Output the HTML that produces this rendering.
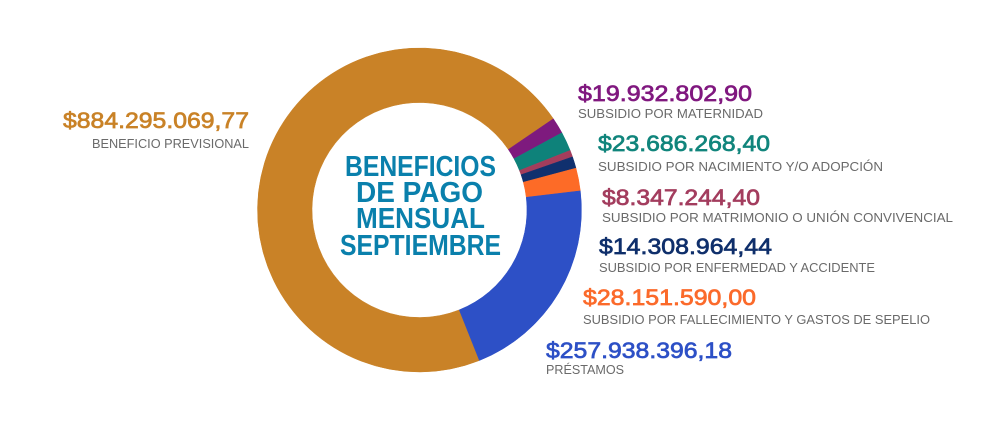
<!DOCTYPE html>
<html>
<head>
<meta charset="utf-8">
<style>
  html, body { margin: 0; padding: 0; background: #ffffff; }
  body { width: 1000px; height: 425px; overflow: hidden; }
  svg { display: block; }
  .val { font-family: "Liberation Sans", sans-serif; font-weight: normal; font-size: 22.5px; stroke-width: 0.7px; }
  .sub { font-family: "Liberation Sans", sans-serif; font-size: 13px; fill: #6a6a6a; }
  .title { font-family: "Liberation Sans", sans-serif; font-weight: bold; font-size: 29px; fill: #0a80ac; }
</style>
</head>
<body>
<svg width="1000" height="425" viewBox="0 0 1000 425" xmlns="http://www.w3.org/2000/svg">
  <rect width="1000" height="425" fill="#ffffff"/>

  <path d="M 479.39 360.51 A 162 162 0 1 1 553.35 118.76 L 508.32 149.46 A 107.5 107.5 0 1 0 459.24 309.88 Z" fill="#c98227" stroke="#c98227" stroke-width="0.5"/>
  <path d="M 553.35 118.76 A 162 162 0 0 1 561.90 132.77 L 513.99 158.75 A 107.5 107.5 0 0 0 508.32 149.46 Z" fill="#7e1a7e" stroke="#7e1a7e" stroke-width="0.5"/>
  <path d="M 561.90 132.77 A 162 162 0 0 1 570.14 150.42 L 519.46 170.46 A 107.5 107.5 0 0 0 513.99 158.75 Z" fill="#0e827a" stroke="#0e827a" stroke-width="0.5"/>
  <path d="M 570.14 150.42 A 162 162 0 0 1 572.53 156.85 L 521.04 174.73 A 107.5 107.5 0 0 0 519.46 170.46 Z" fill="#a33d5c" stroke="#a33d5c" stroke-width="0.5"/>
  <path d="M 572.53 156.85 A 162 162 0 0 1 575.99 168.12 L 523.35 182.21 A 107.5 107.5 0 0 0 521.04 174.73 Z" fill="#10306e" stroke="#10306e" stroke-width="0.5"/>
  <path d="M 575.99 168.12 A 162 162 0 0 1 580.35 190.85 L 526.24 197.29 A 107.5 107.5 0 0 0 523.35 182.21 Z" fill="#fd6b27" stroke="#fd6b27" stroke-width="0.5"/>
  <path d="M 580.35 190.85 A 162 162 0 0 1 479.39 360.51 L 459.24 309.88 A 107.5 107.5 0 0 0 526.24 197.29 Z" fill="#2d50c6" stroke="#2d50c6" stroke-width="0.5"/>

  <text class="title" x="345" y="176" textLength="151" lengthAdjust="spacingAndGlyphs">BENEFICIOS</text>
  <text class="title" x="356" y="202" textLength="127" lengthAdjust="spacingAndGlyphs">DE PAGO</text>
  <text class="title" x="356" y="228" textLength="129" lengthAdjust="spacingAndGlyphs">MENSUAL</text>
  <text class="title" x="340" y="255" textLength="161" lengthAdjust="spacingAndGlyphs">SEPTIEMBRE</text>

  <text class="val" x="63" y="128" fill="#c98227" stroke="#c98227" textLength="186" lengthAdjust="spacingAndGlyphs">$884.295.069,77</text>
  <text class="sub" x="92" y="148" textLength="157" lengthAdjust="spacingAndGlyphs">BENEFICIO PREVISIONAL</text>

  <text class="val" x="578" y="101" fill="#80187f" stroke="#80187f" textLength="174" lengthAdjust="spacingAndGlyphs">$19.932.802,90</text>
  <text class="sub" x="578" y="118" textLength="185" lengthAdjust="spacingAndGlyphs">SUBSIDIO POR MATERNIDAD</text>

  <text class="val" x="598" y="151" fill="#11857c" stroke="#11857c" textLength="172" lengthAdjust="spacingAndGlyphs">$23.686.268,40</text>
  <text class="sub" x="598" y="171" textLength="285" lengthAdjust="spacingAndGlyphs">SUBSIDIO POR NACIMIENTO Y/O ADOPCIÓN</text>

  <text class="val" x="602" y="205" fill="#a33d5e" stroke="#a33d5e" textLength="158" lengthAdjust="spacingAndGlyphs">$8.347.244,40</text>
  <text class="sub" x="602" y="222" textLength="351" lengthAdjust="spacingAndGlyphs">SUBSIDIO POR MATRIMONIO O UNIÓN CONVIVENCIAL</text>

  <text class="val" x="599" y="254" fill="#0f2f6b" stroke="#0f2f6b" textLength="173" lengthAdjust="spacingAndGlyphs">$14.308.964,44</text>
  <text class="sub" x="599" y="272" textLength="276" lengthAdjust="spacingAndGlyphs">SUBSIDIO POR ENFERMEDAD Y ACCIDENTE</text>

  <text class="val" x="583" y="305" fill="#fb6a2b" stroke="#fb6a2b" textLength="173" lengthAdjust="spacingAndGlyphs">$28.151.590,00</text>
  <text class="sub" x="583" y="324" textLength="347" lengthAdjust="spacingAndGlyphs">SUBSIDIO POR FALLECIMIENTO Y GASTOS DE SEPELIO</text>

  <text class="val" x="546" y="358" fill="#2d50c6" stroke="#2d50c6" textLength="186" lengthAdjust="spacingAndGlyphs">$257.938.396,18</text>
  <text class="sub" x="546" y="374" textLength="78" lengthAdjust="spacingAndGlyphs">PRÉSTAMOS</text>
</svg>
</body>
</html>
